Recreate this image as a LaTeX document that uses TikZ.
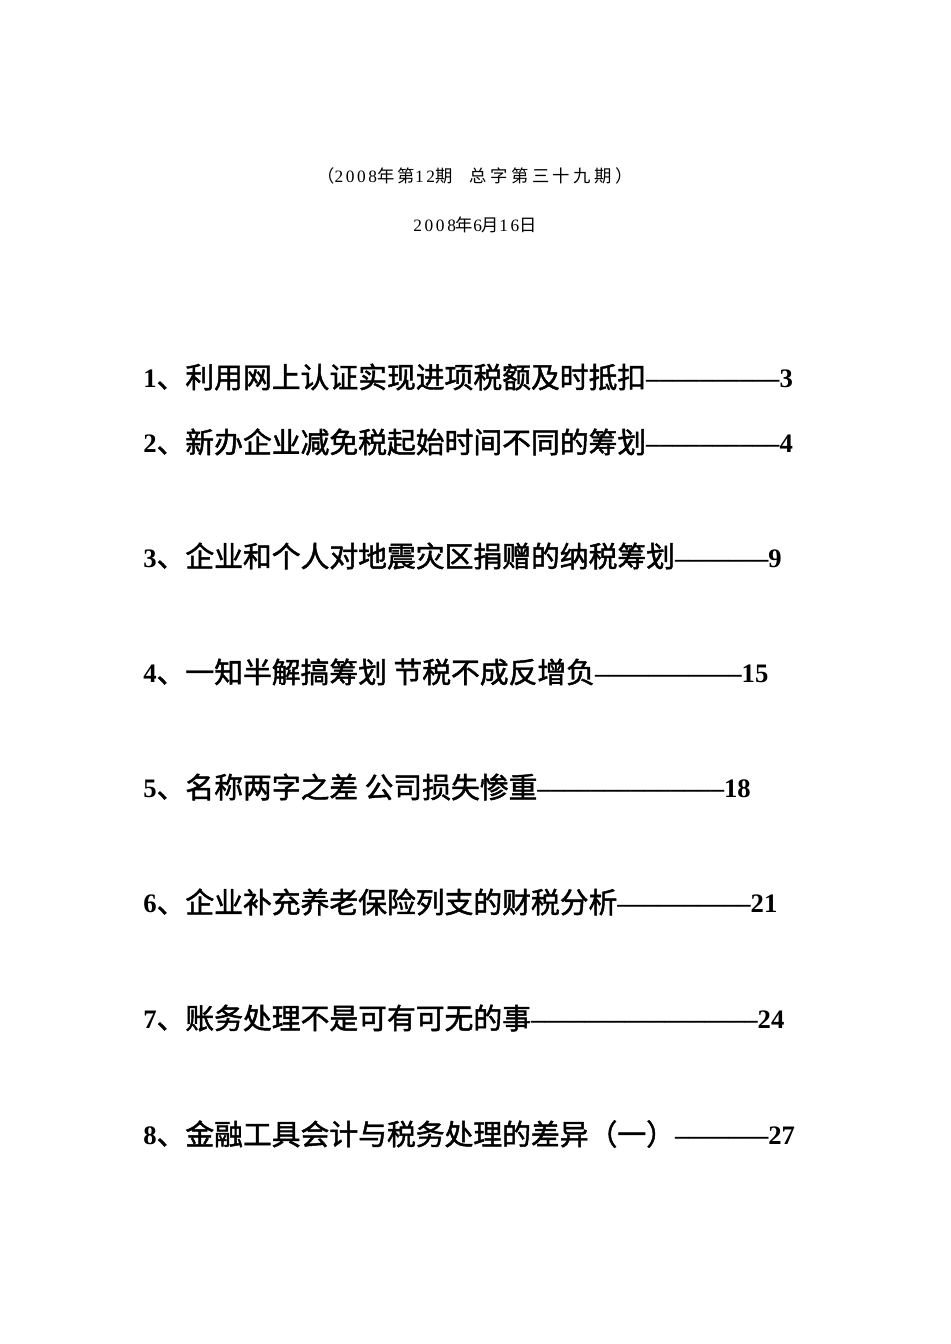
\documentclass[tikz,border=0pt]{standalone}
\usepackage{fontspec}
\setmainfont{Liberation Serif}
\newfontfamily\cjk[LetterSpace=20]{Noto Sans CJK SC}
\newfontfamily\hlat[LetterSpace=15]{Liberation Serif}
\newfontfamily\cjkb[FakeBold=1.6]{Noto Sans CJK SC}
\begin{document}
\begin{tikzpicture}[x=0.75pt,y=-0.75pt,
  hdr/.style={font=\fontsize{13}{15}\selectfont\hlat, inner sep=0pt},
  item/.style={anchor=west, inner sep=0pt, font=\fontsize{20}{24}\selectfont}]
\useasboundingbox (0,0) rectangle (950,1344);
\newcommand\It[3]{{\bfseries #1}{\cjkb\fontsize{21.6}{24}\selectfont 、#2}{\bfseries #3}}
\node[hdr] (h1) at (475,176) {{\cjk （}2008{\cjk 年第}12{\cjk 期\quad 总字第三十九期）}};
\node[hdr] (h2) at (475,225) {2008{\cjk 年}6{\cjk 月}16{\cjk 日}};
\node[item] (i1) at (143,377) {\It{1}{利用网上认证实现进项税额及时抵扣}{––––––––––3}};
\node[item] (i2) at (143,442) {\It{2}{新办企业减免税起始时间不同的筹划}{––––––––––4}};
\node[item] (i3) at (143,556) {\It{3}{企业和个人对地震灾区捐赠的纳税筹划}{–––––––9}};
\node[item] (i4) at (143,672) {\It{4}{一知半解搞筹划\ 节税不成反增负}{–––––––––––15}};
\node[item] (i5) at (143,787) {\It{5}{名称两字之差\ 公司损失惨重}{––––––––––––––18}};
\node[item] (i6) at (143,902) {\It{6}{企业补充养老保险列支的财税分析}{––––––––––21}};
\node[item] (i7) at (143,1018) {\It{7}{账务处理不是可有可无的事}{–––––––––––––––––24}};
\node[item] (i8) at (143,1134) {\It{8}{金融工具会计与税务处理的差异（一）}{–––––––27}};
\end{tikzpicture}
\end{document}
